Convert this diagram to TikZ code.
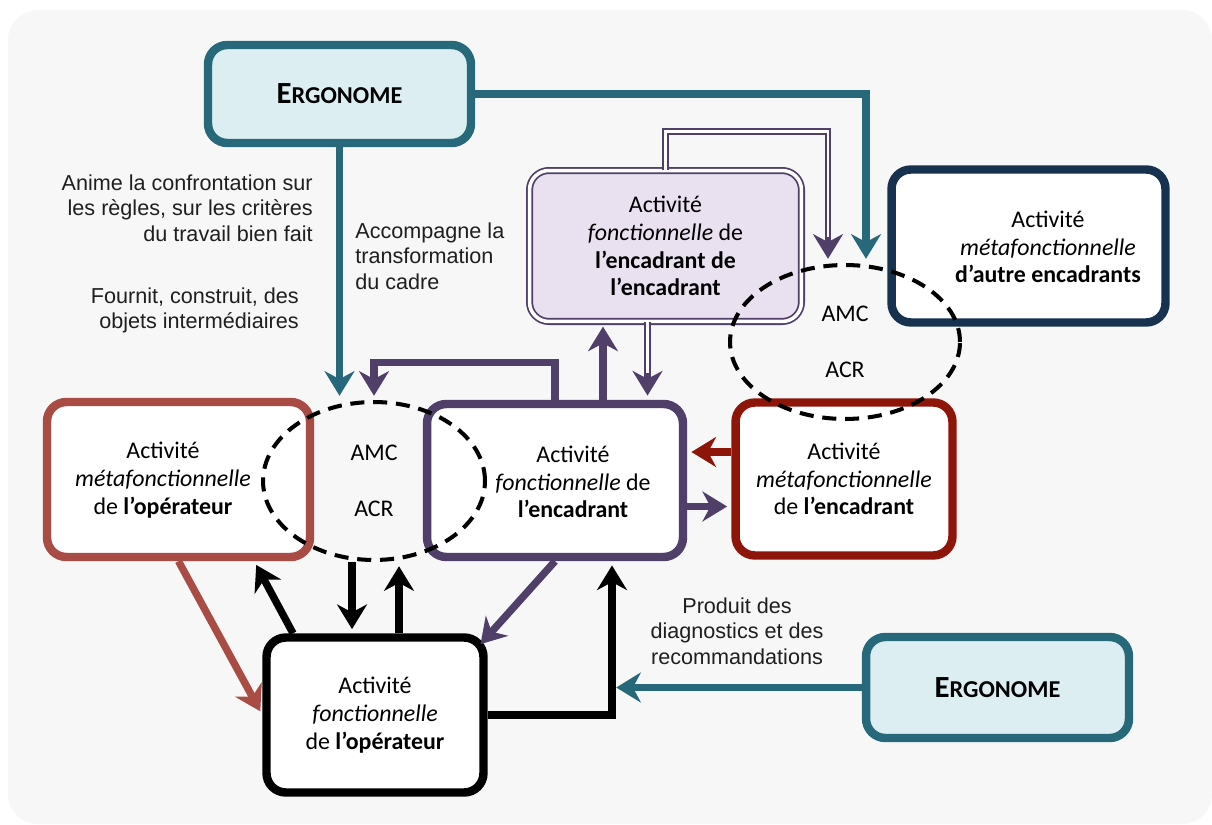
\documentclass[tikz,border=0pt]{standalone}
\usepackage{fontspec}
\setmainfont{Carlito}
\newfontfamily\labelfont{Liberation Sans}
\usetikzlibrary{shapes.geometric,arrows.meta,calc}

\definecolor{ergoteal}{HTML}{27697A}
\definecolor{ergofill}{HTML}{DDEEF2}
\definecolor{encpurple}{HTML}{4F3F69}
\definecolor{encfill}{HTML}{E9E1EF}
\definecolor{opred}{HTML}{A84C45}
\definecolor{encred}{HTML}{8E1509}
\definecolor{autrenavy}{HTML}{17324F}
\definecolor{bggray}{HTML}{F7F7F7}

\newcommand{\ergotext}{\textbf{{\fontsize{17.5}{18}\selectfont E}{\fontsize{13.8}{18}\selectfont RGONOME}}}

\begin{document}
\begin{tikzpicture}[
        x=0.02cm, y=-0.02cm,
        >={Stealth[length=14pt,width=17pt,inset=4.5pt]},
        box/.style={draw=#1, line width=4.8pt, rounded corners=11pt, fill=white,
            minimum width=4.34cm, minimum height=3.06cm, inner sep=0pt},
        boxtext/.style={align=center, font=\fontsize{13.6}{15.8}\selectfont},
        ergo/.style={box=ergoteal, fill=ergofill, minimum width=5.26cm, minimum height=1.96cm},
        amc/.style={ellipse, draw, dash pattern=on 8pt off 5pt, line width=2.3pt,
            inner sep=0pt, align=center, font=\fontsize{13.6}{15.8}\selectfont},
        link/.style={->, line width=4.2pt, draw=#1, shorten >=2.4pt},
        dlink/.style={->, draw=encpurple, line width=3.8pt, shorten >=2.4pt,
            postaction={draw=white, line width=1.4pt, -, shorten >=15pt}},
        note/.style={font=\labelfont\fontsize{12.3}{14.5}\selectfont, text=black!88, inner sep=0pt},
    ]
    \fill[bggray, rounded corners=17pt] (8,10) rectangle (1212,824);
    \useasboundingbox (0,0) rectangle (1212,824);

    % boxes
    \node[ergo] (ergoA) at (339.5,94) {\ergotext};
    \node[ergo, minimum height=2.02cm] (ergoB) at (997.5,687.5) {\ergotext};
    \node[box=encpurple, fill=encfill, line width=1pt, double=white, double distance=2pt,
        minimum width=5.44cm, minimum height=3.02cm, boxtext] (encenc) at (665.5,246)
        {Activité\\\textit{fonctionnelle} de\\\textbf{l’encadrant de}\\\textbf{l’encadrant}};
    \node[box=autrenavy, minimum width=5.48cm] (autre) at (1028.5,246) {};
    \node[boxtext] (autre-t) at (1048,247)
        {Activité\\\textit{métafonctionnelle}\\\textbf{d’autre encadrants}};
    \node[box=opred, minimum width=5.26cm, minimum height=3.1cm] (metaop) at (178.5,479.5) {};
    \node[boxtext] (metaop-t) at (163,480)
        {Activité\\\textit{métafonctionnelle}\\de \textbf{l’opérateur}};
    \node[box=encpurple, minimum width=5.12cm] (fenc) at (555,480.5) {};
    \node[boxtext] (fenc-t) at (573,482)
        {Activité\\\textit{fonctionnelle} de\\\textbf{l’encadrant}};
    \node[box=encred, boxtext] (menc) at (844,479)
        {Activité\\\textit{métafonctionnelle}\\de \textbf{l’encadrant}};
    \node[box=black, minimum height=3.1cm, boxtext] (fop) at (375,715)
        {Activité\\\textit{fonctionnelle}\\de \textbf{l’opérateur}};

    % AMC / ACR
    \node[amc, minimum width=4.44cm, minimum height=3.16cm] (ellL) at (374,481) {AMC\\[16pt]ACR};
    \node[amc, minimum width=4.6cm, minimum height=3.08cm] (ellR) at (845,342) {AMC\\[16pt]ACR};

    % connectors
    \draw[link=ergoteal] (ergoA) -- (ergoA |- ellL.north);
    \draw[link=ergoteal] (ergoA) -| ($(ellR.north)+(21,0)$);
    \draw[dlink] (encenc.north) -- ++(0,-38) -| ($(ellR.north)+(-17,0)$);
    \draw[dlink] ([xshift=-0.36cm]encenc.south) -- ([xshift=-0.36cm]encenc.south |- fenc.north);
    \draw[link=encpurple] ([xshift=0.96cm]fenc.north) -- ([xshift=0.96cm]fenc.north |- encenc.south);
    \draw[link=encpurple] (fenc.north) -- ++(0,-37) -| (ellL.north);
    \draw[link=encred] ([yshift=0.54cm]menc.west) -- ([yshift=0.54cm]menc.west -| fenc.east);
    \draw[link=encpurple] ([yshift=-0.52cm]fenc.east) -- ([yshift=-0.52cm]fenc.east -| menc.west);
    \draw[link=opred] (metaop.south) -- (fop.west);
    \draw[link=black] ([xshift=-1.64cm]fop.north) -- ([xshift=-1.2cm]metaop.south east);
    \draw[link=black] ([xshift=-0.44cm]ellL.south) -- ([xshift=-0.44cm]ellL.south |- fop.north);
    \draw[link=black] ([xshift=0.48cm]fop.north) -- ([xshift=0.48cm]fop.north |- ellL.south);
    \draw[link=encpurple] (fenc.south) -- ([shift={(-0.2cm,-0.28cm)}]fop.north east);
    \coordinate (up) at ([xshift=1.14cm]fenc.south);
    \draw[link=black] (fop.east) -| (up);
    \draw[link=ergoteal] (ergoB.west) -- (ergoB.west -| up);

    % labels
    \node[note, anchor=east, align=right] (anime) at (313,208)
        {Anime la confrontation sur\\les règles, sur les critères\\du travail bien fait};
    \node[note, anchor=east, align=right] (fournit) at (299,310.5)
        {Fournit, construit, des\\objets intermédiaires};
    \node[note, anchor=west, align=left] (accomp) at (355,256)
        {Accompagne la\\transformation\\du cadre};
    \node[note, align=center] (produit) at (737,631)
        {Produit des\\diagnostics et des\\recommandations};
\end{tikzpicture}
\end{document}
